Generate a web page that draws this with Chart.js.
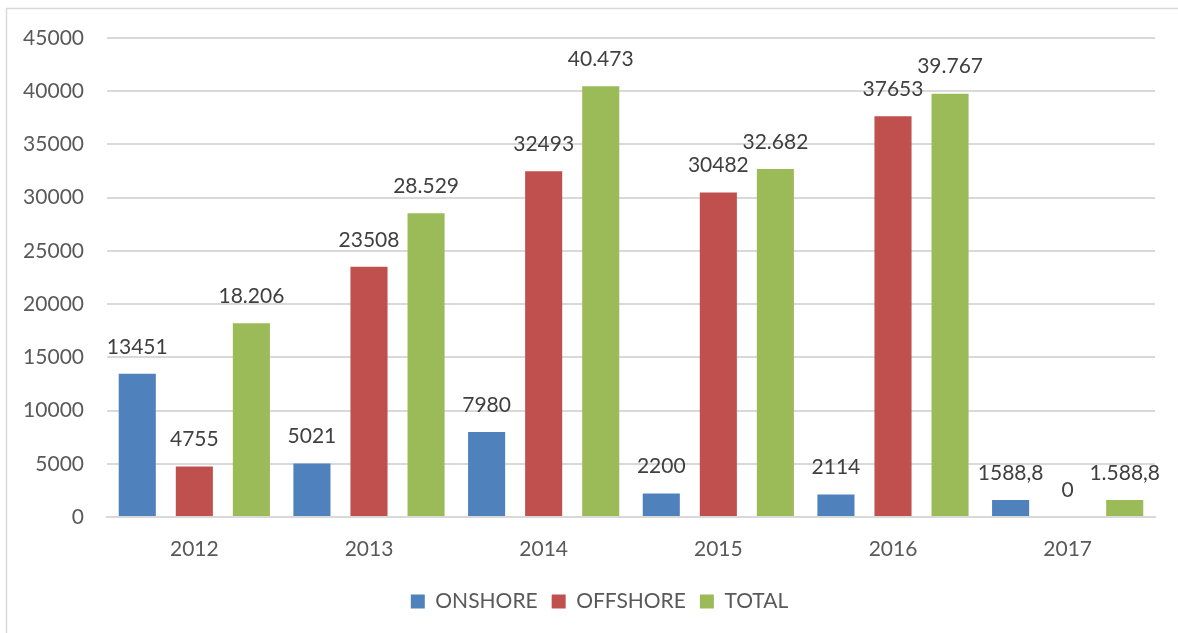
<!DOCTYPE html>
<html><head><meta charset="utf-8">
<script src="https://cdn.jsdelivr.net/npm/chart.js@4"></script>
<style>html,body{margin:0;padding:0;background:#fff;}#wrap{width:1178px;height:633px;position:relative;}</style>
</head><body><div id="wrap"><canvas id="c" width="1178" height="633"></canvas></div>
<script>
const categories = ['2012','2013','2014','2015','2016','2017'];
const onshore  = [13451, 5021, 7980, 2200, 2114, 1588.8];
const offshore = [4755, 23508, 32493, 30482, 37653, 0];
const total    = [18206, 28529, 40473, 32682, 39767, 1588.8];
const seriesNames = ['ONSHORE','OFFSHORE','TOTAL'];
const yTicks = [0,5000,10000,15000,20000,25000,30000,35000,40000,45000];

const FONT = 'Lato, "Open Sans", sans-serif';
const plainFmt = v => String(v).replace('.', ',');
const totalFmt = v => v.toLocaleString('de-DE', {maximumFractionDigits: 1});
const formatters = [plainFmt, plainFmt, totalFmt];

const labelPlugin = {
  id: 'barLabels',
  afterDatasetsDraw(chart) {
    const ctx = chart.ctx;
    ctx.save();
    ctx.font = '21px ' + FONT;
    ctx.fillStyle = '#404040';
    ctx.textAlign = 'center';
    ctx.textBaseline = 'middle';
    chart.data.datasets.forEach((ds, i) => {
      const meta = chart.getDatasetMeta(i);
      meta.data.forEach((el, j) => {
        ctx.fillText(formatters[i](ds.data[j]), el.x, el.y - 27);
      });
    });
    ctx.restore();
  }
};
const framePlugin = {
  id: 'frame',
  afterLayout(chart) {
    if (chart.legend) { chart.legend.left += 11; chart.legend.right += 11; }
  },
  beforeDraw(chart) {
    const ctx = chart.ctx;
    ctx.save();
    ctx.strokeStyle = '#d9d9d9';
    ctx.lineWidth = 1.5;
    ctx.beginPath();
    ctx.moveTo(6.5, 640); ctx.lineTo(6.5, 8.5); ctx.lineTo(1190, 8.5);
    ctx.stroke();
    ctx.restore();
  }
};

new Chart(document.getElementById('c'), {
  type: 'bar',
  data: {
    labels: categories,
    datasets: [
      {label: seriesNames[0], data: onshore, backgroundColor: '#4f81bd'},
      {label: seriesNames[1], data: offshore, backgroundColor: '#c0504d'},
      {label: seriesNames[2], data: total, backgroundColor: '#9bbb59'}
    ]
  },
  options: {
    responsive: false,
    animation: false,
    events: [],
    categoryPercentage: 0.98,
    barPercentage: 0.65,
    layout: {padding: {left: 22, right: 23, top: 38, bottom: 11}},
    plugins: {
      tooltip: {enabled: false},
      legend: {
        position: 'bottom',
        labels: {
          boxWidth: 14, boxHeight: 14, padding: 14,
          color: '#595959', font: {family: FONT, size: 21}
        }
      }
    },
    scales: {
      x: {
        grid: {display: false, drawTicks: false},
        border: {display: true, color: '#d9d9d9', width: 2},
        ticks: {color: '#595959', font: {family: FONT, size: 21}, padding: 20},
        afterFit(s) { s.height = 60; }
      },
      y: {
        min: 0, max: 45000,
        afterBuildTicks(s) { s.ticks = yTicks.map(v => ({value: v})); },
        grid: {color: '#d9d9d9', lineWidth: 2, drawTicks: false},
        border: {display: false},
        ticks: {color: '#595959', font: {family: FONT, size: 21}, padding: 23,
                callback: v => String(v)},
        afterFit(s) { s.width = 85; }
      }
    }
  },
  plugins: [labelPlugin, framePlugin]
});
</script></body></html>
